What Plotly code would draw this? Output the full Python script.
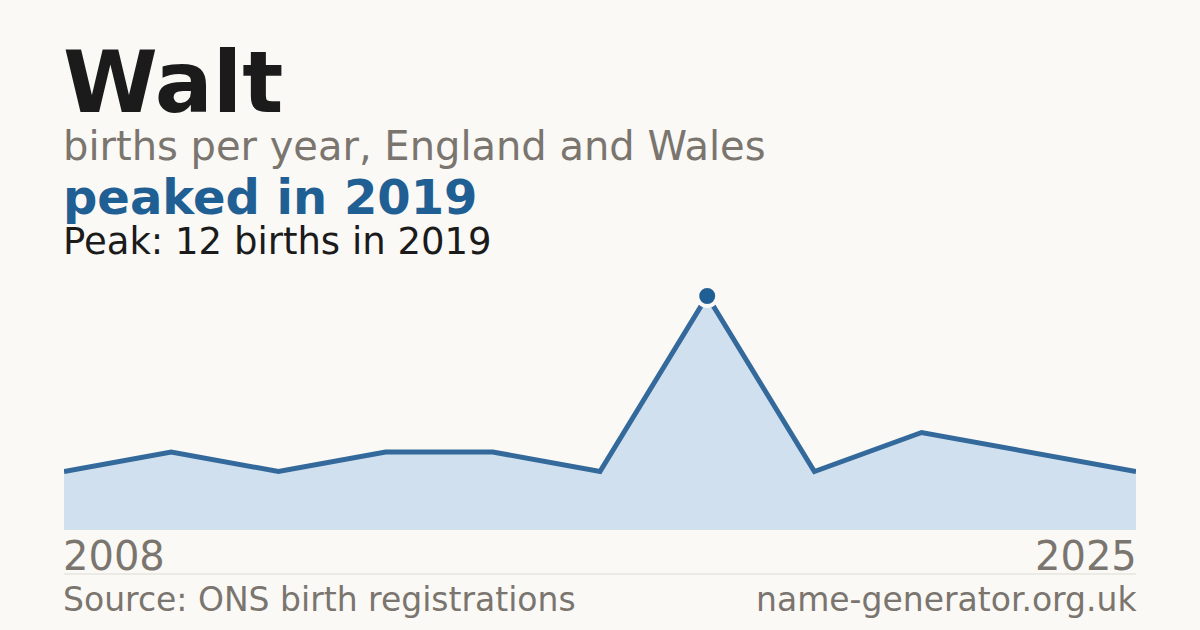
import plotly.graph_objs as go

# data (evenly spaced points, first and last year labelled)
points = list(range(11))
births = [3, 4, 3, 4, 4, 3, 12, 3, 5, 4, 3]
first_year = "2008"
last_year = "2025"
peak_year = "2019"

W, H = 1200, 630
bg = "#faf9f5"
blue = "#1f5f94"
grey = "#7a756e"
ink = "#1b1b1b"
font = "DejaVu Sans"

peak_i = births.index(max(births))


def px_x(x):
    return x / W


def px_y(y):
    return 1 - y / H


line = go.Scatter(
    x=points, y=births, mode="lines",
    line=dict(color="#33699b", width=5),
    fill="tozeroy", fillcolor="#d0e0ef",
    hoverinfo="skip", cliponaxis=False,
)
peak = go.Scatter(
    x=[points[peak_i]], y=[births[peak_i]], mode="markers",
    marker=dict(size=20, color=blue, line=dict(color=bg, width=4)),
    hoverinfo="skip", cliponaxis=False,
)

layout = go.Layout(
    width=W, height=H, autosize=False,
    paper_bgcolor=bg, plot_bgcolor=bg,
    margin=dict(l=0, r=0, t=0, b=0),
    showlegend=False,
    font=dict(family=font),
    xaxis=dict(domain=[64 / W, 1136 / W], range=[0, 10], visible=False, fixedrange=True),
    yaxis=dict(domain=[100 / H, 334 / H], range=[0, 12], visible=False, fixedrange=True),
)

fig = go.Figure(data=[line, peak], layout=layout)


def label(text, x, y, size, color, anchor="left", bold=False):
    if bold:
        text = "<b>" + text + "</b>"
    fig.add_annotation(
        text=text, x=px_x(x), y=px_y(y), xref="paper", yref="paper",
        xanchor=anchor, yanchor="middle", showarrow=False, borderpad=0,
        font=dict(family=font, size=size, color=color),
    )


label("Walt", 62, 82, 86, ink, bold=True)
label("births per year, England and Wales", 62, 146, 40, grey)
label("peaked in " + peak_year, 62, 197, 48, blue, bold=True)
label("Peak: %d births in %s" % (max(births), peak_year), 62, 242, 37, ink)
label(first_year, 62, 556, 40, grey)
label(last_year, 1138, 556, 40, grey, anchor="right")
label("Source: ONS birth registrations", 62, 599, 33, grey)
label("name-generator.org.uk", 1138, 599, 33, grey, anchor="right")

fig.add_shape(type="line", xref="paper", yref="paper",
              x0=px_x(64), x1=px_x(1136), y0=px_y(574), y1=px_y(574),
              line=dict(color="#dedbd3", width=1))

# drop the page's default body margin so the figure sits flush in the window
fig.write_html("out.html", config={"displayModeBar": False},
               post_script="document.body.style.margin='0';")
